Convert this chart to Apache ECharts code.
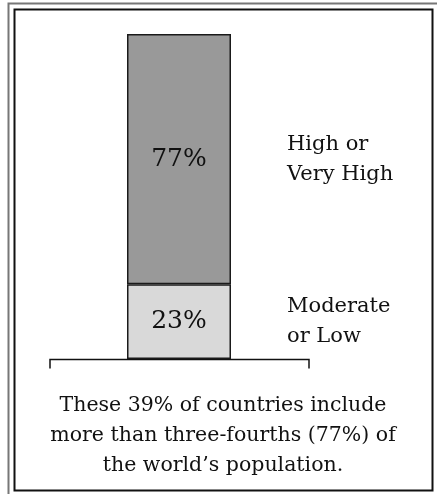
<!DOCTYPE html>
<html><head><meta charset="utf-8">
<script src="https://cdn.jsdelivr.net/npm/echarts@6/dist/echarts.min.js"></script>
<style>html,body{margin:0;padding:0;background:#fff}#c{width:437px;height:494px}</style>
</head><body><div id="c"></div>
<script>
const categories = ['Countries'];
const segmentNames = ['Moderate\nor Low', 'High or\nVery High'];
const segmentValues = [23, 77];
const segmentColors = ['#d9d9d9', '#999999'];
const noteLines = ['These 39% of countries include', 'more than three-fourths (77%) of', 'the world\u2019s population.'];

const FONT = '"DejaVu Serif", "Liberation Serif", serif';
const chart = echarts.init(document.getElementById('c'), null, {renderer: 'canvas'});
const series = segmentValues.map((v, i) => ({
  name: segmentNames[i], type: 'bar', stack: 'all', data: [v], barWidth: '100%',
  itemStyle: {color: segmentColors[i], borderColor: '#1a1a1a', borderWidth: 1.5},
  label: {show: true, position: 'inside', formatter: '{c}%', color: '#111', fontFamily: FONT, fontSize: 25},
  emphasis: {disabled: true}, animation: false
}));
chart.setOption({
  animation: false,
  grid: {left: 127, right: 206, top: 34, bottom: 135},
  xAxis: {type: 'category', data: categories, show: false},
  yAxis: {type: 'value', min: 0, max: 100, show: false},
  series: series
});

function place() {
  const g = [];
  // frames
  g.push({type: 'polyline', shape: {points: [[8.5, 494], [8.5, 3.5], [437, 3.5]]}, style: {stroke: '#777', lineWidth: 2, fill: null}});
  g.push({type: 'rect', shape: {x: 14.5, y: 9.5, width: 418, height: 481}, style: {stroke: '#111', lineWidth: 2, fill: null}});
  // right labels at segment centres
  let cum = 0;
  segmentValues.forEach((v, i) => {
    const mid = cum + v / 2; cum += v;
    const p = chart.convertToPixel({gridIndex: 0}, [0, mid]);
    g.push({type: 'text', style: {text: segmentNames[i], x: 287, y: p[1], verticalAlign: 'middle', align: 'left',
      font: '21px ' + FONT, fill: '#111', lineHeight: 30}});
  });
  // bracket under bar
  const base = chart.convertToPixel({gridIndex: 0}, [0, 0]);
  const by = Math.round(base[1]) + 0.5;
  g.push({type: 'polyline', shape: {points: [[50, by + 9], [50, by], [309, by], [309, by + 9]]}, style: {stroke: '#111', lineWidth: 1.5, fill: null}});
  noteLines.forEach((t, i) => {
    g.push({type: 'text', style: {text: t, x: 223, y: 406 + i * 30, align: 'center', verticalAlign: 'middle', font: '20.5px ' + FONT, fill: '#111'}});
  });
  chart.setOption({graphic: g});
}
place();
</script></body></html>
